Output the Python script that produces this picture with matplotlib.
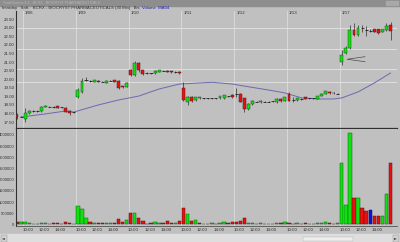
import numpy as np
import matplotlib.pyplot as plt
from matplotlib.patches import Rectangle

# BCRX 30 min bars: last two bars of 1/05, then 1/06 .. 1/17 (13 bars a day)
days = ['1/06', '1/09', '1/10', '1/11', '1/12', '1/13', '1/17']
day_start = [2, 15, 28, 41, 54, 67, 80]

opens = [17.92, 17.82,
         17.67, 18.05, 18.15, 18.16, 18.16, 18.38, 18.40, 18.38, 18.44, 18.37, 18.32, 18.15, 18.09,
         18.95, 19.28, 19.95, 19.91, 19.86, 19.91, 19.86, 19.80, 19.91, 19.93, 19.90, 19.58, 19.56,
         20.53, 20.24, 20.96, 20.53, 20.34, 20.34, 20.34, 20.44, 20.50, 20.50, 20.48, 20.42, 20.44,
         19.47, 18.69, 18.98, 18.80, 18.88, 18.89, 18.89, 18.89, 18.89, 18.89, 18.89, 19.02, 19.08,
         19.14, 19.14, 18.89, 18.25, 18.56, 18.69, 18.67, 18.69, 18.69, 18.71, 18.67, 18.87, 18.75,
         19.14, 18.79, 18.79, 18.85, 18.95, 18.89, 18.89, 18.87, 19.02, 19.14, 19.28, 19.20, 19.14,
         21.00, 21.52, 21.81, 22.86, 22.57, 22.96, 22.86, 22.82, 22.90, 22.90, 22.76, 22.86, 23.15]
highs = [18.03, 17.86,
         18.30, 18.22, 18.20, 18.20, 18.42, 18.48, 18.44, 18.42, 18.46, 18.40, 18.36, 18.18, 18.12,
         19.47, 20.07, 20.11, 19.95, 19.98, 19.95, 19.90, 19.93, 19.95, 19.95, 19.93, 19.62, 19.84,
         20.60, 21.06, 21.02, 20.56, 20.40, 20.38, 20.52, 20.56, 20.54, 20.53, 20.50, 20.46, 20.48,
         19.86, 19.02, 19.00, 18.98, 18.97, 18.93, 18.92, 18.93, 18.92, 19.05, 19.10, 19.05, 19.12,
         19.47, 19.18, 18.93, 18.60, 18.79, 18.73, 18.79, 18.73, 18.72, 18.75, 18.90, 18.92, 18.98,
         19.26, 18.97, 18.92, 18.89, 18.98, 18.92, 18.92, 19.05, 19.17, 19.34, 19.31, 19.23, 19.17,
         21.70, 21.92, 23.15, 23.25, 23.15, 23.15, 23.09, 22.92, 22.95, 22.95, 22.95, 23.30, 23.34]
lows = [17.69, 17.78,
        17.52, 18.00, 18.12, 18.12, 18.12, 18.36, 18.36, 18.34, 18.30, 18.34, 18.08, 17.92, 18.05,
        18.89, 19.22, 19.90, 19.86, 19.84, 19.82, 19.82, 19.78, 19.88, 19.82, 19.41, 19.50, 19.52,
        20.20, 20.20, 20.44, 20.24, 20.30, 20.30, 20.32, 20.42, 20.46, 20.40, 20.38, 20.38, 20.30,
        18.75, 18.50, 18.70, 18.76, 18.85, 18.85, 18.86, 18.85, 18.86, 18.86, 18.86, 18.98, 18.92,
        18.95, 18.65, 18.11, 18.20, 18.52, 18.65, 18.64, 18.65, 18.66, 18.67, 18.64, 18.70, 18.72,
        18.73, 18.69, 18.76, 18.81, 18.83, 18.86, 18.86, 18.85, 19.00, 19.12, 19.15, 19.16, 19.11,
        20.83, 21.46, 21.75, 22.52, 22.54, 22.75, 22.50, 22.72, 22.72, 22.62, 22.72, 22.83, 22.28]
closes = [17.80, 17.82,
          18.05, 18.14, 18.15, 18.16, 18.36, 18.44, 18.40, 18.38, 18.33, 18.37, 18.12, 18.04, 18.09,
          19.37, 19.91, 19.95, 19.91, 19.95, 19.84, 19.86, 19.90, 19.91, 19.84, 19.51, 19.54, 19.80,
          20.24, 20.96, 20.53, 20.30, 20.34, 20.34, 20.50, 20.53, 20.50, 20.42, 20.40, 20.42, 20.34,
          18.79, 18.98, 18.75, 18.95, 18.94, 18.89, 18.89, 18.89, 18.89, 19.02, 19.08, 19.02, 18.95,
          19.14, 18.69, 18.25, 18.56, 18.75, 18.69, 18.75, 18.69, 18.69, 18.71, 18.87, 18.73, 18.95,
          18.75, 18.79, 18.89, 18.85, 18.85, 18.89, 18.89, 19.02, 19.14, 19.31, 19.18, 19.18, 19.14,
          21.41, 21.81, 22.86, 22.57, 22.96, 22.96, 22.86, 22.82, 22.76, 22.67, 22.90, 23.09, 22.82]

volume = [100000, 110000,
          110000, 60000, 30000, 25000, 60000, 55000, 40000, 45000, 50000, 40000, 90000, 70000, 40000,
          840000, 690000, 275000, 125000, 70000, 50000, 50000, 80000, 60000, 50000, 230000, 100000, 200000,
          500000, 500000, 305000, 160000, 40000, 50000, 100000, 80000, 50000, 170000, 50000, 60000, 160000,
          720000, 455000, 160000, 200000, 60000, 40000, 30000, 50000, 40000, 70000, 90000, 55000, 100000,
          125000, 155000, 275000, 80000, 55000, 40000, 50000, 30000, 40000, 40000, 70000, 60000, 110000,
          60000, 40000, 50000, 30000, 45000, 30000, 40000, 60000, 80000, 90000, 50000, 40000, 45000,
          2740000, 870000, 4080000, 1180000, 1180000, 740000, 600000, 650000, 380000, 380000, 380000,
          1360000, 2750000]
vol_color = ['r', 'g',
             'g', 'g', 'g', 'b', 'g', 'g', 'r', 'r', 'r', 'r', 'r', 'r', 'g',
             'g', 'g', 'g', 'r', 'g', 'r', 'r', 'g', 'g', 'r', 'r', 'r', 'g',
             'r', 'g', 'r', 'r', 'b', 'r', 'g', 'g', 'r', 'r', 'r', 'g', 'r',
             'r', 'g', 'r', 'g', 'r', 'g', 'r', 'g', 'r', 'g', 'g', 'r', 'r',
             'r', 'r', 'r', 'g', 'g', 'r', 'g', 'r', 'g', 'r', 'g', 'r', 'g',
             'r', 'r', 'g', 'r', 'r', 'g', 'r', 'g', 'g', 'g', 'r', 'r', 'g',
             'g', 'g', 'g', 'r', 'g', 'r', 'r', 'b', 'r', 'r', 'g', 'g', 'r']

# moving average line, read at a few bars
ma_bar = [1, 7, 12, 14, 20, 25, 30, 35, 40, 45, 48, 53, 57, 62, 66, 70, 74, 78, 80, 84, 88, 92]
ma_val = [17.80, 17.98, 18.15, 18.09, 18.50, 18.79, 19.02, 19.43, 19.72, 19.78, 19.82, 19.72,
          19.56, 19.37, 19.20, 18.92, 18.85, 18.85, 18.91, 19.26, 19.78, 20.36]

level_lines = [22.98, 21.76, 20.59, 19.84]
price_ticks = [17.5, 18.0, 18.5, 19.0, 19.5, 20.0, 20.5, 21.0, 21.5, 22.0, 22.5, 23.0, 23.5]
vol_ticks = [0, 500000, 1000000, 1500000, 2000000, 2500000, 3000000, 3500000, 4000000]
time_labels = ['10:00', '12:00', '14:00']

small = ['Liberation Sans', 'DejaVu Sans']
fs = 3.2
TXT = '#303030'

W, H = 400, 242
GRAY = '#c0c0c0'


def box(x0, y0, x1, y1):
    return [x0 / W, 1 - y1 / H, (x1 - x0) / W, (y1 - y0) / H]


fig = plt.figure(figsize=(4, 2.42), dpi=100, facecolor=GRAY)

# window chrome
bg = fig.add_axes([0, 0, 1, 1])
bg.set_xlim(0, W)
bg.set_ylim(H, 0)
bg.axis('off')
bg.add_patch(Rectangle((0, 0), W, 5.5, color='#8e8e8e'))
bg.text(3, 2.8, 'TradeStation 8.1 - BCRX - BIOCRYST PHARMACEUTICALS', fontsize=2.6,
        color='#b8b8b8', va='center', family=small)
bg.add_patch(Rectangle((386, 0.8), 12, 4, color='#a8a8a8'))
bg.text(2, 8.3, 'Intraday   Saft.   BCRX - BIOCRYST PHARMACEUTICALS (30 Min)   Bis',
        fontsize=3.1, color=TXT, va='center', family=small)
bg.text(142, 8.3, 'Volume  MA04', fontsize=3.1, color='#2020c0', va='center', family=small)
# scrollbar
bg.add_patch(Rectangle((0, 234), W, 8, color='#dedede'))
bg.add_patch(Rectangle((303, 236.5), 50, 4, color='#eeeeee', ec='#b0b0b0', lw=0.3))
bg.add_patch(Rectangle((0.5, 234.5), 6.5, 7, color='#d0d0d0', ec='#909090', lw=0.3))
bg.add_patch(Rectangle((392.5, 234.5), 6.5, 7, color='#d0d0d0', ec='#909090', lw=0.3))
bg.text(3.7, 238, '◄', fontsize=2.6, ha='center', va='center', color=TXT)
bg.text(395.7, 238, '►', fontsize=2.6, ha='center', va='center', color=TXT)

x = np.arange(len(opens))
o, h, l, c = (np.array(v) for v in (opens, highs, lows, closes))
xlim = (-0.25, 93.6)
seps = [s - 0.5 for s in day_start]

# price panel
ax = fig.add_axes(box(16, 11, 397, 128))
ax.set_facecolor(GRAY)
ax.set_xlim(*xlim)
ax.set_ylim(17.16, 23.97)
for s in seps:
    ax.axvline(s, color='#dcdcdc', lw=0.6, zorder=0)
for lv in level_lines:
    ax.axhline(lv, color='#e4e4e4', lw=0.6, zorder=0)
ax.plot(ma_bar, ma_val, color='#6a6ab0', lw=0.7, zorder=1)
ax.vlines(x, l, h, color='#202020', lw=0.45, zorder=2)
up, dn, fl = c > o, c < o, c == o
ax.bar(x[up], (c - o)[up], bottom=o[up], width=0.72, color='#10e010',
       edgecolor='#205020', lw=0.35, zorder=3)
ax.bar(x[dn], (o - c)[dn], bottom=c[dn], width=0.72, color='#e81010',
       edgecolor='#502020', lw=0.35, zorder=3)
ax.hlines(c[fl], x[fl] - 0.38, x[fl] + 0.38, color='#202020', lw=0.6, zorder=3)
# arrow pointing at the 1/17 opening bar
ax.plot([85.7, 81.3, 85.7], [21.31, 21.16, 21.02], color='#404040', lw=0.45, zorder=4)
for s, d in zip(day_start, days):
    ax.text(s, 0.985, d, transform=ax.get_xaxis_transform(), fontsize=fs, color=TXT,
            va='center', ha='left', family=small)
ax.set_yticks(price_ticks)
ax.set_yticklabels([f'{p:.2f}' for p in price_ticks], fontsize=fs, color=TXT, family=small)
ax.set_xticks([])
ax.tick_params(axis='y', length=0, pad=1.0)
for side in ('top', 'right'):
    ax.spines[side].set_visible(False)
ax.spines['left'].set_color(TXT)
ax.spines['left'].set_linewidth(0.8)
ax.spines['bottom'].set_color(TXT)
ax.spines['bottom'].set_linewidth(0.9)

# volume panel
vx = fig.add_axes(box(16, 129, 397, 226))
vx.set_facecolor(GRAY)
vx.set_xlim(*xlim)
vx.set_ylim(-67000, 4263000)
for s in seps:
    vx.axvline(s, color='#dcdcdc', lw=0.6, zorder=0)
fill = {'g': '#10e010', 'r': '#e81010', 'b': '#1010e0'}
edge = {'g': '#106010', 'r': '#601010', 'b': '#101060'}
vx.bar(x, volume, width=0.82, color=[fill[k] for k in vol_color],
       edgecolor=[edge[k] for k in vol_color], lw=0.35, zorder=2)
vx.set_yticks(vol_ticks)
vx.set_yticklabels([str(v) for v in vol_ticks], fontsize=3.0, color=TXT, family=small)
tpos = [s + off for s in day_start for off in (0.7, 4.7, 8.7)]
vx.set_xticks(tpos)
vx.set_xticklabels(time_labels * len(day_start), fontsize=fs, color=TXT, family=small)
vx.tick_params(axis='both', length=0, pad=1.0)
vx.tick_params(axis='x', pad=1.6)
for side in ('top', 'right'):
    vx.spines[side].set_visible(False)
vx.spines['left'].set_color(TXT)
vx.spines['left'].set_linewidth(0.8)
vx.spines['bottom'].set_color('#505050')
vx.spines['bottom'].set_linewidth(0.6)

fig.savefig('out.png', dpi=100, facecolor=GRAY)
